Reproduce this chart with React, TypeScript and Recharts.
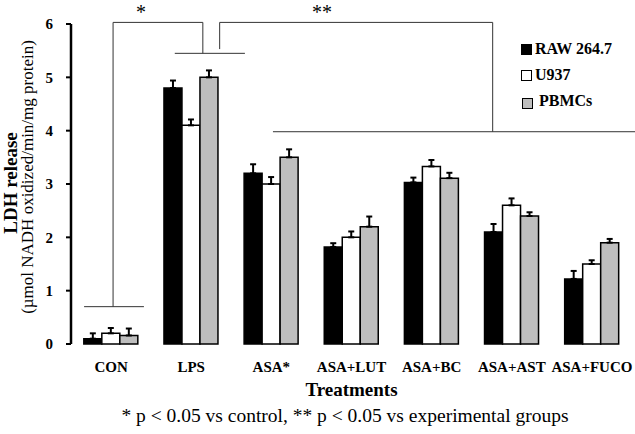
import { BarChart, Bar, XAxis, YAxis, ErrorBar, ReferenceLine } from 'recharts';

const categories = ['CON', 'LPS', 'ASA*', 'ASA+LUT', 'ASA+BC', 'ASA+AST', 'ASA+FUCO'];
const raw = [0.1, 4.8, 3.2, 1.82, 3.03, 2.1, 1.22];
const rawErr = [0.1, 0.14, 0.17, 0.07, 0.09, 0.15, 0.15];
const u937 = [0.2, 4.1, 3.0, 2.0, 3.33, 2.6, 1.5];
const u937Err = [0.1, 0.11, 0.13, 0.11, 0.12, 0.13, 0.07];
const pbmc = [0.16, 5.0, 3.5, 2.2, 3.11, 2.4, 1.9];
const pbmcErr = [0.13, 0.13, 0.15, 0.19, 0.1, 0.07, 0.07];
const yTicks = [0, 1, 2, 3, 4, 5, 6];
const boundaries = [0, 1, 2, 3, 4, 5, 6, 7];

// significance brackets, x in category units (0..7), y in data units
const brackets = [
  [[0.14, 0.7], [0.78, 0.7]],
  [[0.45, 0.7], [0.45, 6.03]],
  [[0.45, 6.03], [1.41, 6.03]],
  [[1.41, 6.03], [1.41, 5.45]],
  [[1.11, 5.45], [1.86, 5.45]],
  [[1.59, 5.53], [1.59, 6.03]],
  [[1.59, 6.03], [4.51, 6.03]],
  [[4.51, 6.03], [4.51, 3.98]],
  [[2.16, 3.98], [6.79, 3.98]],
];

const legendItems = [
  { name: 'RAW 264.7', color: '#000000' },
  { name: 'U937', color: '#ffffff' },
  { name: 'PBMCs', color: '#bebebe' },
];

const data = categories.map((name, i) => ({
  name,
  raw: raw[i],
  rawErr: [0, rawErr[i]],
  u937: u937[i],
  u937Err: [0, u937Err[i]],
  pbmc: pbmc[i],
  pbmcErr: [0, pbmcErr[i]],
}));

const serif = "'Liberation Serif', 'Times New Roman', serif";

const rotated = (cx: number, cy: number, size: number, bold: boolean) => ({
  position: 'absolute' as const,
  left: cx,
  top: cy,
  transform: 'translate(-50%, -50%) rotate(-90deg)',
  whiteSpace: 'nowrap' as const,
  fontSize: size,
  lineHeight: `${size}px`,
  fontWeight: bold ? 'bold' : 'normal',
});

export default function App() {
  return (
    <>
      <style>{'body { margin: 0; }'}</style>
      <div style={{ position: 'relative', width: 635, height: 434, fontFamily: serif, overflow: 'hidden' }}>
        <BarChart
          width={635}
          height={434}
          data={data}
          margin={{ top: 24, right: 3, left: 0, bottom: 30 }}
          barCategoryGap="16%"
          barGap={0}
        >
          <XAxis
            xAxisId="num"
            type="number"
            domain={[0, 7]}
            ticks={boundaries}
            allowDataOverflow
            tick={false}
            height={0}
            tickSize={5}
            axisLine={{ stroke: '#000', strokeWidth: 2.5 }}
            tickLine={{ stroke: '#000', strokeWidth: 2 }}
          />
          <XAxis
            xAxisId="cat"
            dataKey="name"
            interval={0}
            axisLine={false}
            tickLine={false}
            height={60}
            tickSize={6}
            tickMargin={11}
            tick={{ fill: '#000', fontSize: 15, fontWeight: 'bold', fontFamily: serif }}
            label={{
              value: 'Treatments',
              position: 'insideBottom',
              offset: 8,
              fill: '#000',
              fontSize: 19,
              fontWeight: 'bold',
              fontFamily: serif,
            }}
          />
          <YAxis
            domain={[0, 6]}
            ticks={yTicks}
            width={71}
            tickSize={5}
            tickMargin={13}
            axisLine={{ stroke: '#000', strokeWidth: 2.5 }}
            tickLine={{ stroke: '#000', strokeWidth: 2 }}
            tick={{ fill: '#000', fontSize: 15, fontWeight: 'bold', fontFamily: serif }}
          />
          {brackets.map((s, i) => (
            <ReferenceLine
              key={i}
              xAxisId="num"
              segment={[{ x: s[0][0], y: s[0][1] }, { x: s[1][0], y: s[1][1] }]}
              stroke="#333"
              strokeWidth={1}
              ifOverflow="visible"
            />
          ))}
          <Bar xAxisId="cat" dataKey="raw" fill="#000000" stroke="#000" strokeWidth={1.5} isAnimationActive={false}>
            <ErrorBar dataKey="rawErr" width={3} stroke="#000" strokeWidth={2} isAnimationActive={false} />
          </Bar>
          <Bar xAxisId="cat" dataKey="u937" fill="#ffffff" stroke="#000" strokeWidth={1.5} isAnimationActive={false}>
            <ErrorBar dataKey="u937Err" width={3} stroke="#000" strokeWidth={2} isAnimationActive={false} />
          </Bar>
          <Bar xAxisId="cat" dataKey="pbmc" fill="#bebebe" stroke="#000" strokeWidth={1.5} isAnimationActive={false}>
            <ErrorBar dataKey="pbmcErr" width={3} stroke="#000" strokeWidth={2} isAnimationActive={false} />
          </Bar>
        </BarChart>

        <div style={rotated(9.5, 183, 19, true)}>LDH release</div>
        <div style={rotated(27, 177, 17, false)}>(µmol NADH oxidized/min/mg protein)</div>

        <div style={{ position: 'absolute', left: 126, top: 1.5, width: 30, textAlign: 'center', fontSize: 20, lineHeight: '20px' }}>*</div>
        <div style={{ position: 'absolute', left: 302, top: 1.5, width: 40, textAlign: 'center', fontSize: 20, lineHeight: '20px' }}>**</div>

        <div style={{ position: 'absolute', left: 521, top: 36 }}>
          {legendItems.map((it, i) => (
            <div key={it.name} style={{ display: 'flex', alignItems: 'center', height: 26 }}>
              <span
                style={{
                  display: 'inline-block',
                  width: 9,
                  height: 9,
                  background: it.color,
                  border: '1.5px solid #000',
                  marginLeft: i === 2 ? 1 : 0,
                  marginTop: i === 2 ? 4 : 0,
                }}
              />
              <span style={{ marginLeft: i === 2 ? 6 : 3, fontSize: 16, fontWeight: 'bold' }}>{it.name}</span>
            </div>
          ))}
        </div>

        <div style={{ position: 'absolute', left: 45, top: 406, width: 600, textAlign: 'center', fontSize: 19.5, lineHeight: '20px' }}>
          * p &lt; 0.05 vs control, ** p &lt; 0.05 vs experimental groups
        </div>
      </div>
    </>
  );
}
